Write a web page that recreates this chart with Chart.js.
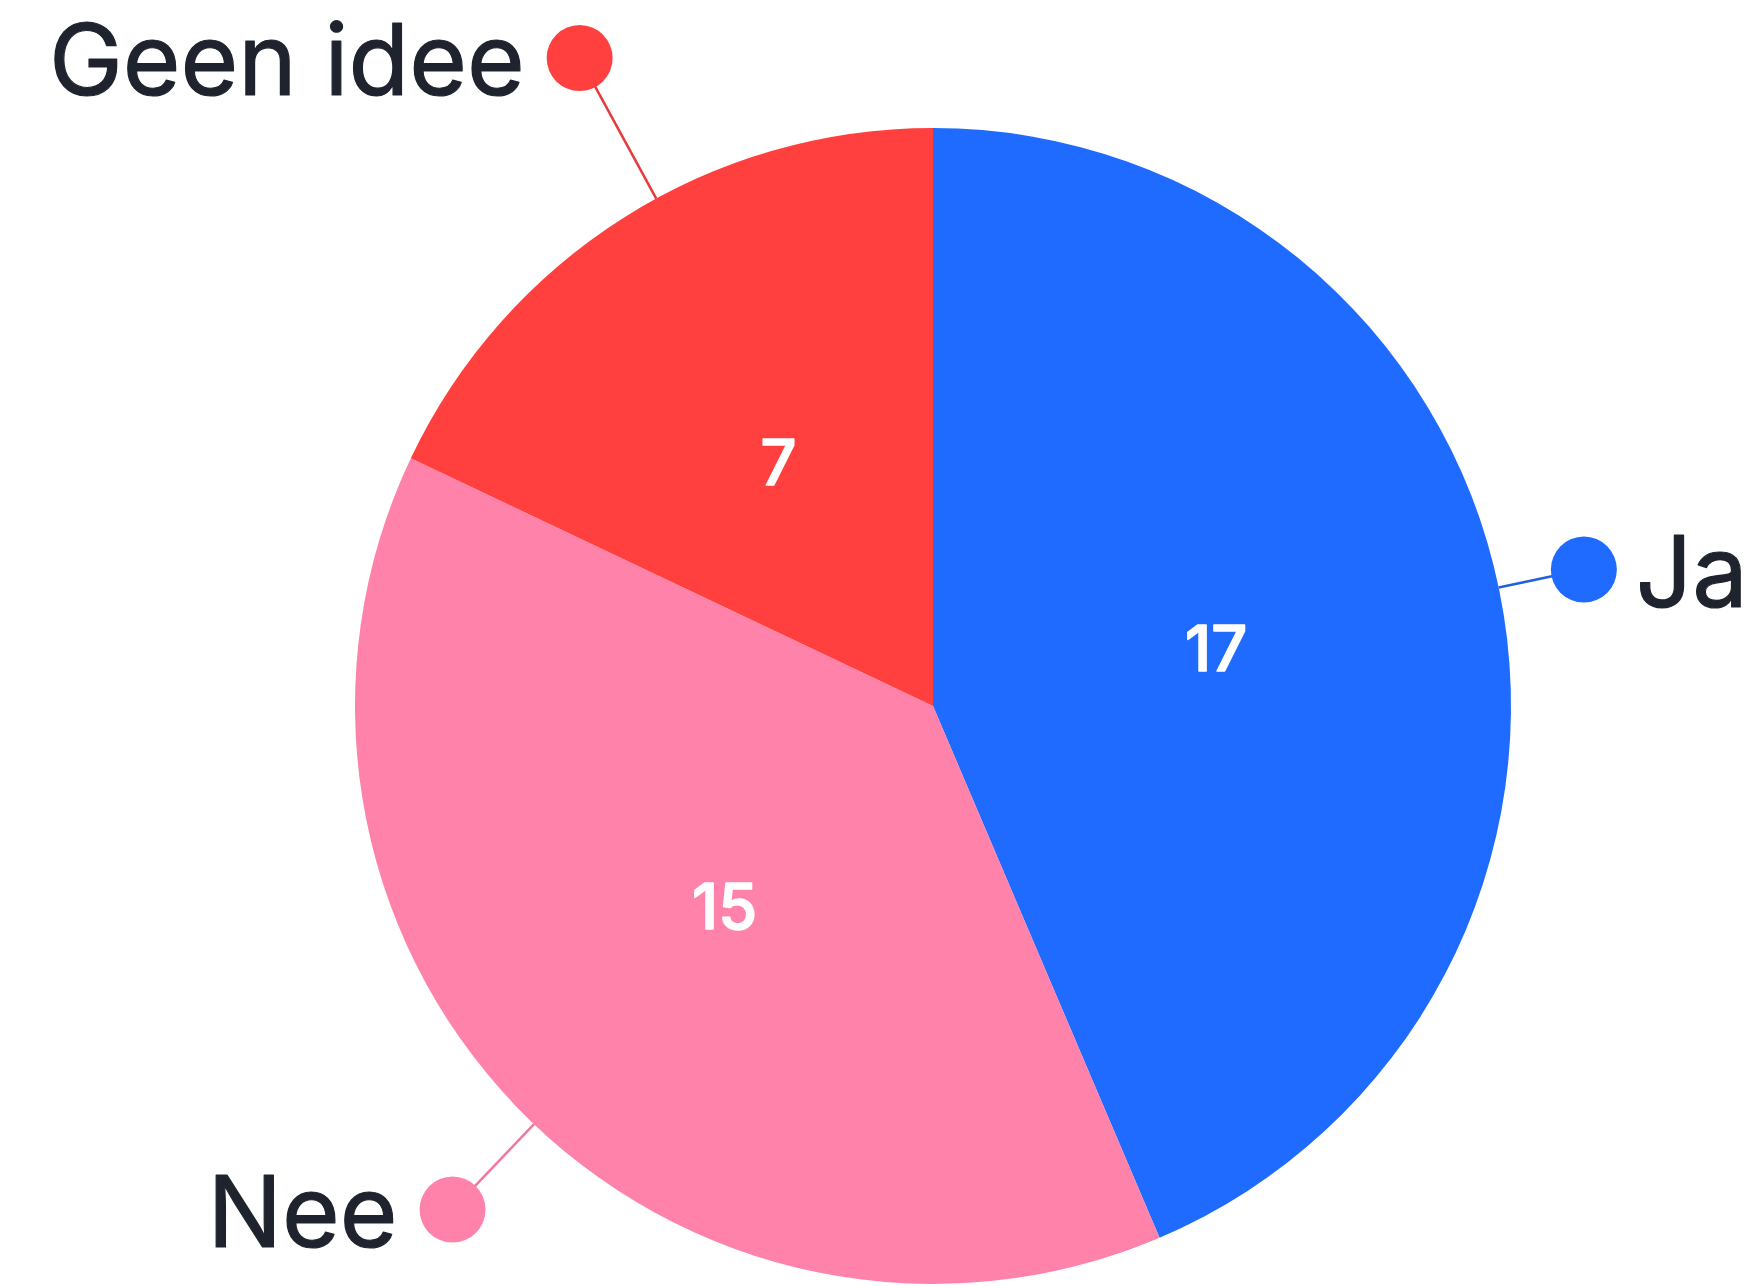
<!DOCTYPE html>
<html>
<head>
<meta charset="utf-8">
<script src="https://cdn.jsdelivr.net/npm/chart.js@4.4.0/dist/chart.umd.min.js"></script>
<style>
  body { margin: 0; background: #fff; }
  #wrap { width: 1762px; height: 1286px; }
</style>
</head>
<body>
<div id="wrap"><canvas id="pieChart" width="1762" height="1286"></canvas></div>
<script>
const labels = ["Ja", "Nee", "Geen idee"];
const values = [17, 15, 7];
const colors = ['#1F6BFF', '#FF82AA', '#FF403F'];
const lineColors = ['#1F5FE0', '#F0789F', '#E83A3A'];

// outside label tweaks: extra distance past the rim and angle nudge (degrees)
const labelReach = [87, 118, 160];
const labelNudge = [-0.3, -2.5, 3.7];

// fill + thin stroke of same colour so the text gets a bit more weight
function heavyText(ctx, txt, x, y, font, align, color, weight) {
    ctx.font = font;
    ctx.textAlign = align;
    ctx.textBaseline = 'alphabetic';
    ctx.fillStyle = color;
    ctx.strokeStyle = color;
    ctx.lineWidth = weight;
    ctx.lineJoin = 'round';
    ctx.fillText(txt, x, y);
    ctx.strokeText(txt, x, y);
}

const calloutPlugin = {
    id: 'callouts',
    afterDatasetsDraw(chart) {
        const ctx = chart.ctx;
        const arcs = chart.getDatasetMeta(0).data;
        arcs.forEach((arc, i) => {
            const p = arc.getProps(['x', 'y', 'startAngle', 'endAngle', 'outerRadius']);
            const a = (p.startAngle + p.endAngle) / 2 + labelNudge[i] * Math.PI / 180;
            const cos = Math.cos(a), sin = Math.sin(a);
            const ex = p.x + p.outerRadius * cos, ey = p.y + p.outerRadius * sin;
            const dx = p.x + (p.outerRadius + labelReach[i]) * cos;
            const dy = p.y + (p.outerRadius + labelReach[i]) * sin;

            ctx.save();
            // leader line
            ctx.strokeStyle = lineColors[i];
            ctx.lineWidth = 2.5;
            ctx.beginPath();
            ctx.moveTo(ex, ey);
            ctx.lineTo(dx, dy);
            ctx.stroke();
            // dot
            ctx.fillStyle = colors[i];
            ctx.beginPath();
            ctx.arc(dx, dy, 33, 0, Math.PI * 2);
            ctx.fill();
            // category text
            if (cos >= 0) {
                heavyText(ctx, labels[i], dx + 52, dy + 37, '400 99px Inter', 'left', '#1E232D', 1.2);
            } else {
                heavyText(ctx, labels[i], dx - 55, dy + 37, '400 99px Inter', 'right', '#1E232D', 1.2);
            }
            // value inside slice
            const tp = arc.tooltipPosition();
            heavyText(ctx, String(values[i]), tp.x, tp.y + 23, '500 63px Inter', 'center', '#FFFFFF', 1.6);
            ctx.restore();
        });
    }
};

const ctx = document.getElementById('pieChart');
new Chart(ctx, {
    type: 'pie',
    data: {
        labels: labels,
        datasets: [{
            data: values,
            backgroundColor: colors,
            borderWidth: 0
        }]
    },
    options: {
        responsive: false,
        animation: false,
        layout: { padding: { top: 128, bottom: 2, left: 355, right: 251 } },
        plugins: {
            legend: { display: false },
            tooltip: { enabled: false }
        }
    },
    plugins: [calloutPlugin]
});
</script>
</body>
</html>
